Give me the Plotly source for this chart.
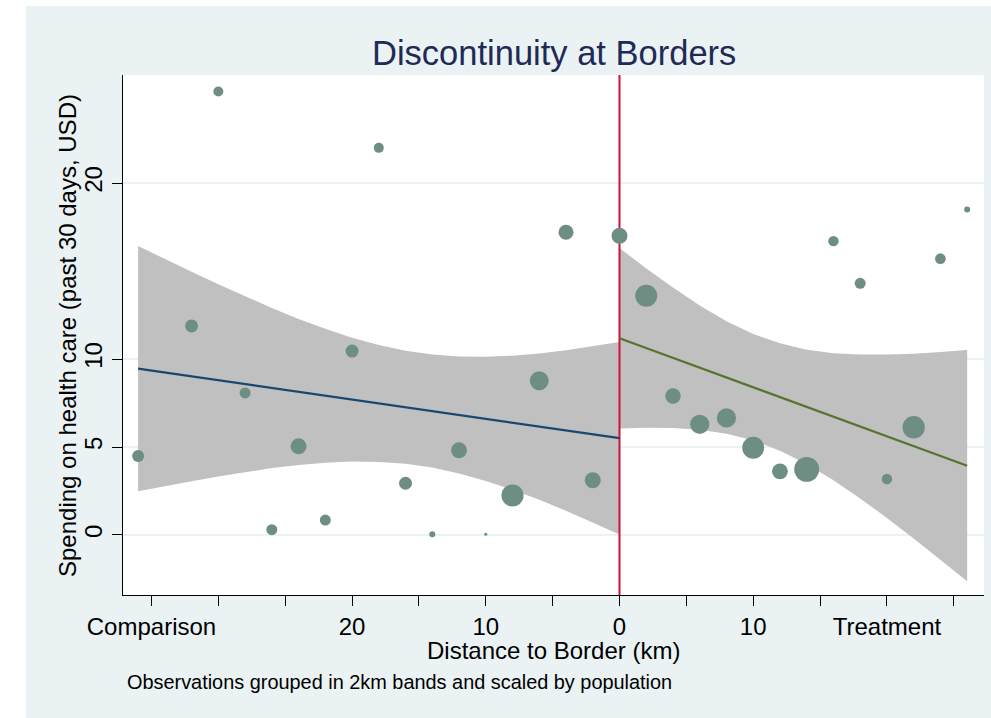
import plotly.graph_objects as go

# ---------------- data ----------------
# binned observations (2 km bands), comparison side (negative) and treatment side (positive)
comp_km = [-36, -32, -30, -28, -26, -24, -22, -20, -18, -16, -14, -12, -10, -8, -6, -4, -2, 0]
comp_spend = [4.49, 11.88, 25.2, 8.07, 0.30, 5.04, 0.85, 10.45, 22.0, 2.94, 0.04, 4.81, 0.04, 2.25, 8.77, 17.2, 3.11, 17.0]
comp_pop = [144, 169, 100, 121, 121, 256, 121, 169, 100, 169, 36, 256, 9, 484, 361, 225, 256, 256]

treat_km = [2, 4, 6, 8, 10, 12, 14, 16, 18, 20, 22, 24, 26]
treat_spend = [13.6, 7.9, 6.29, 6.65, 4.96, 3.62, 3.73, 16.7, 14.3, 3.18, 6.12, 15.7, 18.5]
treat_pop = [484, 240, 370, 370, 484, 250, 620, 110, 121, 110, 500, 115, 36]

# linear fits
comp_fit_km = [-36, 0]
comp_fit = [9.45, 5.50]
treat_fit_km = [0, 26]
treat_fit = [11.18, 3.94]

# 95% confidence bands
comp_ci_km = [-36, -34, -32, -30, -28, -26, -24, -22, -20, -18, -16, -14, -12, -10, -8, -6, -4, -2, 0]
comp_ci_hi = [16.42, 15.68, 14.96, 14.25, 13.56, 12.90, 12.28, 11.72, 11.21, 10.79, 10.47, 10.25, 10.14, 10.13, 10.19, 10.32, 10.50, 10.72, 10.97]
comp_ci_lo = [2.48, 2.78, 3.06, 3.33, 3.58, 3.80, 3.98, 4.10, 4.17, 4.15, 4.05, 3.83, 3.50, 3.07, 2.57, 2.00, 1.38, 0.72, 0.03]

treat_ci_km = [0, 2, 4, 6, 8, 10, 12, 14, 16, 18, 20, 22, 24, 26]
treat_ci_hi = [16.31, 15.15, 14.06, 13.04, 12.15, 11.42, 10.89, 10.53, 10.33, 10.26, 10.25, 10.30, 10.40, 10.51]
treat_ci_lo = [6.05, 6.09, 6.08, 5.98, 5.75, 5.38, 4.79, 4.03, 3.11, 2.08, 0.97, -0.20, -1.40, -2.63]

border_km = 0

x_tickvals = [-35, -30, -25, -20, -15, -10, -5, 0, 5, 10, 15, 20, 25]
x_ticktext = ["Comparison", "", "", "20", "", "10", "", "0", "", "10", "", "Treatment", ""]
y_tickvals = [0, 5, 10, 20]
y_ticktext = ["0", "5", "10", "20"]

X_RANGE = [-37.13, 27.26]
Y_RANGE = [-3.41, 26.14]

# ---------------- style ----------------
BG = "#EAF2F3"
FONT = "Liberation Sans, Arial, sans-serif"
MARKER = "#6E8E84"
BAND = "#C0C0C0"

fig = go.Figure()

# bands
fig.add_trace(go.Scatter(
    x=comp_ci_km + comp_ci_km[::-1], y=comp_ci_hi + comp_ci_lo[::-1],
    fill="toself", fillcolor=BAND, line=dict(width=0), mode="lines",
    hoverinfo="skip", showlegend=False))
fig.add_trace(go.Scatter(
    x=treat_ci_km + treat_ci_km[::-1], y=treat_ci_hi + treat_ci_lo[::-1],
    fill="toself", fillcolor=BAND, line=dict(width=0), mode="lines",
    hoverinfo="skip", showlegend=False))

# border line
fig.add_trace(go.Scatter(
    x=[border_km, border_km], y=Y_RANGE, mode="lines",
    line=dict(color="#D0103A", width=2), hoverinfo="skip", showlegend=False))

# fit lines
fig.add_trace(go.Scatter(x=comp_fit_km, y=comp_fit, mode="lines",
                         line=dict(color="#1A476F", width=2.2), showlegend=False))
fig.add_trace(go.Scatter(x=treat_fit_km, y=treat_fit, mode="lines",
                         line=dict(color="#55752F", width=2.2), showlegend=False))

# observations
fig.add_trace(go.Scatter(
    x=comp_km + treat_km, y=comp_spend + treat_spend, mode="markers",
    marker=dict(size=comp_pop + treat_pop, sizemode="area", sizeref=2,
                color=MARKER, line=dict(width=0), opacity=1),
    cliponaxis=False, showlegend=False))

fig.update_layout(
    width=991, height=718,
    margin=dict(l=123, r=7, t=75, b=123, pad=0),
    paper_bgcolor=BG, plot_bgcolor="white",
    font=dict(family=FONT, color="black", size=24),
    showlegend=False,
)

fig.update_xaxes(
    range=X_RANGE, tickmode="array", tickvals=x_tickvals, ticktext=x_ticktext,
    showgrid=False, zeroline=False, showline=True, linecolor="black", linewidth=1,
    ticks="outside", ticklen=10, tickcolor="black", tickwidth=1,
    tickfont=dict(family=FONT, size=24, color="black"),
)
fig.update_yaxes(
    range=Y_RANGE, tickmode="array", tickvals=y_tickvals, ticktext=y_ticktext,
    showgrid=True, gridcolor=BG, gridwidth=2, zeroline=False,
    showline=True, linecolor="black", linewidth=1,
    ticks="outside", ticklen=10, tickcolor="black", tickwidth=1, tickangle=-90,
    tickfont=dict(family=FONT, size=24, color="black"),
)

# white page strips (outside the chart's outer region)
fig.add_shape(type="rect", xref="paper", yref="paper",
              x0=-123/861, x1=(26-123)/861, y0=-123/520, y1=75/520 + 1,
              fillcolor="white", line=dict(width=0), layer="above")
fig.add_shape(type="rect", xref="paper", yref="paper",
              x0=-123/861, x1=7/861 + 1, y0=(595-6)/520, y1=75/520 + 1,
              fillcolor="white", line=dict(width=0), layer="above")

# titles
fig.add_annotation(text="Discontinuity at Borders", xref="paper", yref="paper",
                   x=0.5, y=(595-53)/520, xanchor="center", yanchor="middle",
                   showarrow=False, font=dict(family=FONT, size=34.5, color="#1F2A56"))
fig.add_annotation(text="Distance to Border (km)", xref="paper", yref="paper",
                   x=0.5, y=(595-650)/520, xanchor="center", yanchor="middle",
                   showarrow=False, font=dict(family=FONT, size=24, color="black"))
fig.add_annotation(text="Spending on health care (past 30 days, USD)", xref="paper", yref="paper",
                   x=(67-123)/861, y=(595-336)/520, xanchor="center", yanchor="middle",
                   textangle=-90, showarrow=False,
                   font=dict(family=FONT, size=24, color="black"))
fig.add_annotation(text="Observations grouped in 2km bands and scaled by population",
                   xref="paper", yref="paper",
                   x=(125-123)/861, y=(595-682)/520, xanchor="left", yanchor="middle",
                   showarrow=False, font=dict(family=FONT, size=19.9, color="black"))

fig.write_html("out.html")
